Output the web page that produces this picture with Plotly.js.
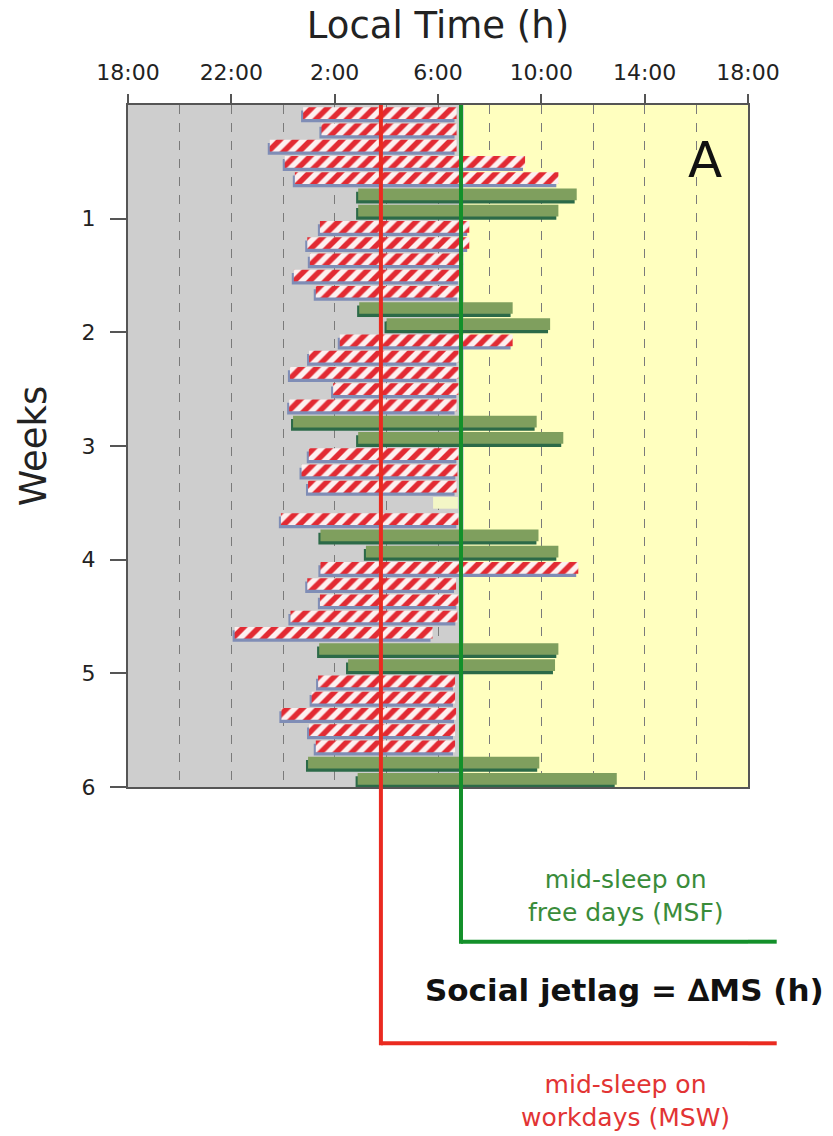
<!DOCTYPE html>
<html>
<head>
<meta charset="utf-8">
<script src="https://cdn.plot.ly/plotly-3.0.1.min.js"></script>
<style>
html,body{margin:0;padding:0;background:#ffffff;}
#chart{width:833px;height:1136px;}
</style>
</head>
<body>
<div id="chart"></div>
<script>
// Day index (0 = first day of the 6-week record); times in hours counted from 0:00 of day 0's eve (24 = 0:00, 30 = 6:00)
const workDays  = [0, 1, 2, 3, 4, 7, 8, 9, 10, 11, 14, 15, 16, 17, 18, 21, 22, 23, 25, 28, 29, 30, 31, 32, 35, 36, 37, 38, 39];
const workOnset = [24.78, 25.49, 23.49, 24.07, 24.46, 25.43, 24.94, 25.04, 24.42, 25.27, 26.20, 25.01, 24.27, 25.94, 24.24, 25.00, 24.72, 24.97, 23.92, 25.45, 24.94, 25.43, 24.29, 22.13, 25.36, 25.11, 23.94, 25.01, 25.27];
const workWake  = [30.72, 30.72, 30.72, 33.37, 34.66, 31.21, 31.21, 30.97, 30.85, 30.82, 32.89, 30.79, 30.79, 30.79, 30.72, 30.79, 30.75, 30.72, 30.79, 35.43, 30.70, 30.79, 30.75, 29.79, 30.66, 30.66, 30.70, 30.66, 30.66];

const freeDays  = [5, 6, 12, 13, 19, 20, 26, 27, 33, 34, 40, 41];
const freeOnset = [26.91, 26.91, 26.95, 28.01, 24.39, 26.91, 25.45, 27.21, 25.40, 26.52, 24.97, 26.89];
const freeWake  = [35.37, 34.66, 32.89, 34.34, 33.82, 34.85, 33.89, 34.66, 34.66, 34.53, 33.92, 36.92];

// day without a record (pale patch)
const gapDays  = [24];
const gapStart = [29.81];
const gapEnd   = [30.77];

// mid-sleep on workdays / free days, lights (dawn) boundary
const MSW = 27.79;
const MSF = 30.89;
const dawn = 31.0;

const xTickVals = [18, 22, 26, 30, 34, 38, 42];
const xTickText = ['18:00', '22:00', '2:00', '6:00', '10:00', '14:00', '18:00'];
const weekTickVals = [7, 14, 21, 28, 35, 42];
const weekTickText = ['1', '2', '3', '4', '5', '6'];

const dur = (a, b) => b.map((v, i) => v - a[i]);
const pos = d => d.map(v => v + 0.5);

const BW = 0.72;
const traces = [
  { // workday shadow
    type: 'bar', orientation: 'h', y: pos(workDays), base: workOnset.map(v => v - 0.08),
    x: dur(workOnset, workWake), width: BW, offset: -BW / 2 + 0.2,
    marker: { color: '#7f8db6', line: { width: 0 } }, hoverinfo: 'skip'
  },
  { // free day shadow
    type: 'bar', orientation: 'h', y: pos(freeDays), base: freeOnset.map(v => v - 0.08),
    x: dur(freeOnset, freeWake), width: BW, offset: -BW / 2 + 0.2,
    marker: { color: '#2c6a48', line: { width: 0 } }, hoverinfo: 'skip'
  },
  {
    type: 'bar', orientation: 'h', y: pos(gapDays), base: gapStart,
    x: dur(gapStart, gapEnd), width: BW, offset: -BW / 2,
    marker: { color: '#f3f6c6', line: { width: 0 } }, hoverinfo: 'skip'
  },
  { // workdays
    type: 'bar', orientation: 'h', name: 'workdays', y: pos(workDays), base: workOnset,
    x: dur(workOnset, workWake), width: BW, offset: -BW / 2,
    marker: {
      color: '#fbe3e3', line: { width: 0 },
      pattern: { shape: '/', fgcolor: '#e22a33', bgcolor: '#fdf0f0', size: 11, solidity: 0.5, fillmode: 'replace' }
    }
  },
  { // free days
    type: 'bar', orientation: 'h', name: 'free days', y: pos(freeDays), base: freeOnset,
    x: dur(freeOnset, freeWake), width: BW, offset: -BW / 2,
    marker: { color: '#7f9f5e', line: { width: 0 } }
  }
];

const yLow1 = -0.2268, yLow2 = -0.3758;
const ext = 2 / 682;
const shapes = [
  { type: 'rect', layer: 'below', xref: 'x', yref: 'paper', x0: 18, x1: dawn, y0: 0, y1: 1, fillcolor: '#cecece', line: { width: 0 } },
  { type: 'rect', layer: 'below', xref: 'x', yref: 'paper', x0: dawn, x1: 42, y0: 0, y1: 1, fillcolor: '#ffffbf', line: { width: 0 } },
  // MSF (green)
  { type: 'line', xref: 'x', yref: 'paper', x0: MSF, x1: MSF, y0: 1, y1: yLow1 - ext, line: { color: '#13902a', width: 4 } },
  { type: 'line', xref: 'x', yref: 'paper', x0: MSF, x1: 42, y0: yLow1, y1: yLow1, line: { color: '#13902a', width: 4 } },
  { type: 'line', xref: 'paper', yref: 'paper', x0: 1, x1: 1.0463, y0: yLow1, y1: yLow1, line: { color: '#13902a', width: 4 } },
  // MSW (red)
  { type: 'line', xref: 'x', yref: 'paper', x0: MSW, x1: MSW, y0: 1, y1: yLow2 - ext, line: { color: '#ea2a20', width: 4 } },
  { type: 'line', xref: 'x', yref: 'paper', x0: MSW, x1: 42, y0: yLow2, y1: yLow2, line: { color: '#ea2a20', width: 4 } },
  { type: 'line', xref: 'paper', yref: 'paper', x0: 1, x1: 1.0463, y0: yLow2, y1: yLow2, line: { color: '#ea2a20', width: 4 } }
];

const annotations = [
  { xref: 'paper', yref: 'paper', x: 0.803, y: -0.16, xanchor: 'center', yanchor: 'middle',
    text: 'mid-sleep on<br>free days (MSF)', showarrow: false, align: 'center',
    font: { family: 'DejaVu Sans', size: 25, color: '#3a8c3a' } },
  { xref: 'paper', yref: 'paper', x: 0.8, y: -0.2977, xanchor: 'center', yanchor: 'middle',
    text: '<b>Social jetlag = ∆MS (h)</b>', showarrow: false,
    font: { family: 'DejaVu Sans', size: 31, color: '#111111' } },
  { xref: 'paper', yref: 'paper', x: 0.803, y: -0.4604, xanchor: 'center', yanchor: 'middle',
    text: 'mid-sleep on<br>workdays (MSW)', showarrow: false, align: 'center',
    font: { family: 'DejaVu Sans', size: 25, color: '#e23434' } },
  { xref: 'paper', yref: 'paper', x: 0.93, y: 0.919, xanchor: 'center', yanchor: 'middle',
    text: 'A', showarrow: false,
    font: { family: 'DejaVu Sans', size: 50, color: '#111111' } }
];

const layout = {
  width: 833, height: 1136,
  margin: { l: 128, r: 85, t: 105, b: 349, pad: 0 },
  paper_bgcolor: '#ffffff', plot_bgcolor: '#cecece',
  font: { family: 'DejaVu Sans', color: '#222222' },
  barmode: 'overlay', showlegend: false,
  xaxis: {
    range: [18, 42], side: 'top', tickmode: 'array', tickvals: xTickVals, ticktext: xTickText,
    ticks: 'outside', ticklen: 9, tickwidth: 2, tickcolor: '#555555',
    tickfont: { size: 22, color: '#222222' }, ticklabelstandoff: 5,
    showline: true, linecolor: '#555555', linewidth: 2, mirror: true,
    showgrid: true, gridcolor: '#7a7a7a', gridwidth: 1, griddash: 'dash',
    minor: { tick0: 18, dtick: 2, showgrid: true, gridcolor: '#7a7a7a', gridwidth: 1, griddash: 'dash', ticks: '' },
    zeroline: false, fixedrange: true,
    title: { text: 'Local Time (h)', font: { size: 37, color: '#222222' }, standoff: 10 }
  },
  yaxis: {
    range: [42, 0], tickmode: 'array', tickvals: weekTickVals, ticktext: weekTickText,
    ticks: 'outside', ticklen: 16, tickwidth: 2, tickcolor: '#555555',
    tickfont: { size: 22, color: '#222222' }, ticklabelstandoff: 10,
    showline: true, linecolor: '#555555', linewidth: 2, mirror: true,
    showgrid: false, zeroline: false, fixedrange: true,
    title: { text: 'Weeks', font: { size: 37, color: '#222222' }, standoff: 24 }
  },
  shapes: shapes,
  annotations: annotations
};

Plotly.newPlot('chart', traces, layout, { displayModeBar: false, staticPlot: true });
</script>
</body>
</html>
